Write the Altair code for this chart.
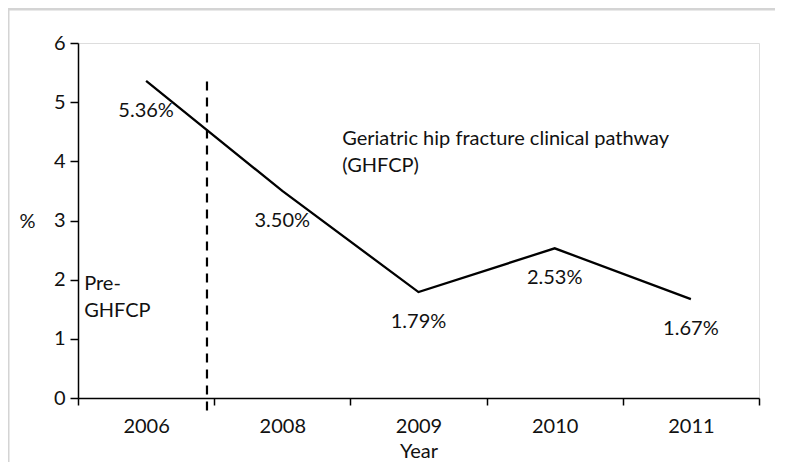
import altair as alt
import pandas as pd

# ---- data ----
years = ["2006", "2008", "2009", "2010", "2011"]
rates = [5.36, 3.50, 1.79, 2.53, 1.67]
rate_labels = ["5.36%", "3.50%", "1.79%", "2.53%", "1.67%"]

divider_pos = [0.947]        # position of the dashed line (in year-slot units)
divider_top = [5.35]
divider_bottom = [-0.3]

ann_lines = [["Geriatric hip fracture clinical pathway", "(GHFCP)"], ["Pre-", "GHFCP"]]
ann_x = [1.94, 0.045]
ann_y = [4.27, 1.82]

FONT = "Lato"
FS = 20
W, H = 681, 355

df = pd.DataFrame({
    "slot": [i + 0.5 for i in range(len(years))],
    "year": years,
    "rate": rates,
    "label": rate_labels,
})
div_df = pd.DataFrame({"x": divider_pos, "y": divider_top, "y2": divider_bottom})
ann_df = pd.DataFrame({"x": ann_x, "y": ann_y, "text": ann_lines})

year_arr = "[" + ",".join(f"'{y}'" for y in years) + "]"
x_values = [i / 2 for i in range(2 * len(years) + 1)]

xscale = alt.Scale(domain=[0, len(years)], nice=False, zero=False)
yscale = alt.Scale(domain=[0, 6], nice=False)

x_axis = alt.Axis(
    values=x_values,
    labelExpr=f"datum.value % 1 == 0.5 ? {year_arr}[floor(datum.value)] : ''",
    tickOpacity={"condition": {"test": "datum.value % 1 == 0", "value": 1}, "value": 0},
    tickSize=7, tickWidth=1.5, tickColor="#000",
    domainColor="#000", domainWidth=1.5,
    labelOverlap=False, labelFlush=False, labelPadding=11,
    labelFont=FONT, labelFontSize=FS, labelColor="#111",
    title="Year", titleFont=FONT, titleFontSize=FS, titleFontWeight="normal",
    titleColor="#111", titlePadding=5, grid=False,
)
y_axis = alt.Axis(
    values=[0, 1, 2, 3, 4, 5, 6], format="d",
    tickSize=8, tickWidth=1.5, tickColor="#000",
    domainColor="#000", domainWidth=1.5,
    labelFont=FONT, labelFontSize=FS, labelColor="#111", labelPadding=5,
    title="%", titleFont=FONT, titleFontSize=FS, titleFontWeight="normal",
    titleColor="#111", titleAngle=0, titleAlign="center", titleBaseline="middle",
    titleX=-51, titleY=178, grid=False,
)

frame = alt.Chart(df.head(1)).mark_rect(
    fill=None, stroke="#d4d4d4", strokeWidth=3
).encode(
    x=alt.value(-70), x2=alt.value(W + 200), y=alt.value(-34), y2=alt.value(H + 200)
)

line = alt.Chart(df).mark_line(color="#000", strokeWidth=2.3).encode(
    x=alt.X("slot:Q", scale=xscale, axis=x_axis),
    y=alt.Y("rate:Q", scale=yscale, axis=y_axis),
)

labels = alt.Chart(df).mark_text(
    font=FONT, fontSize=FS, color="#111", dy=30, align="center", baseline="middle"
).encode(x="slot:Q", y="rate:Q", text="label:N")

divider = alt.Chart(div_df).mark_rule(
    color="#000", strokeWidth=2.2, strokeDash=[9, 7]
).encode(x="x:Q", y="y:Q", y2="y2:Q")

ann = alt.Chart(ann_df).mark_text(
    font=FONT, fontSize=FS, color="#111", align="left", baseline="alphabetic", lineHeight=27
).encode(x="x:Q", y="y:Q", text="text")

chart = alt.layer(frame, line, labels, divider, ann).properties(
    width=W, height=H,
    autosize=alt.AutoSizeParams(type="none"),
    padding={"left": 70, "top": 35, "right": 16, "bottom": 64},
).configure_view(stroke=None).configure(background="white")

chart.save("out.html", embed_options={"renderer": "svg", "actions": False})
